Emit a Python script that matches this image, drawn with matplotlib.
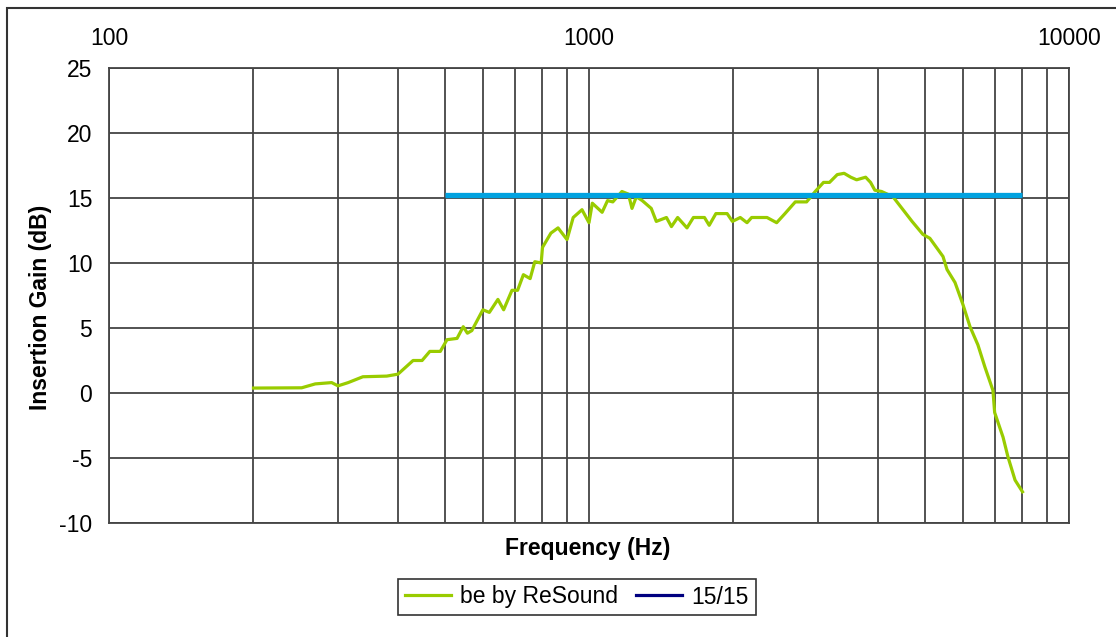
import numpy as np
import matplotlib
matplotlib.use('Agg')
import matplotlib.pyplot as plt
from matplotlib.lines import Line2D
from matplotlib.patches import Rectangle
from matplotlib.ticker import FixedLocator, NullFormatter

plt.rcParams['font.family'] = ['Liberation Sans', 'DejaVu Sans']

# Insertion gain curve (Hz, dB)
freq_hz = [200, 252, 269, 291, 300, 315, 338, 379, 400, 430, 449, 466, 490, 506, 531,
           547, 558, 570, 601, 620, 646, 664, 691, 710, 730, 754, 771, 795, 800, 833,
           862, 900, 927, 967, 1000, 1016, 1065, 1093, 1121, 1171, 1208, 1229, 1255,
           1291, 1348, 1381, 1450, 1485, 1530, 1600, 1650, 1740, 1780, 1838, 1940,
           1990, 2066, 2134, 2182, 2349, 2460, 2560, 2690, 2840, 2960, 3080, 3170,
           3290, 3400, 3510, 3610, 3770, 3860, 3940, 4070, 4297, 4510, 4710, 4962,
           5130, 5464, 5570, 5788, 6013, 6220, 6460, 6680, 6943, 7000, 7288, 7460,
           7720, 8000]
gain_db = [0.38, 0.4, 0.7, 0.8, 0.55, 0.8, 1.25, 1.3, 1.45, 2.5, 2.5, 3.2, 3.2, 4.1, 4.2,
           5.1, 4.6, 4.8, 6.4, 6.2, 7.2, 6.4, 7.9, 7.9, 9.1, 8.8, 10.1, 10.0, 11.2, 12.3,
           12.7, 11.8, 13.5, 14.1, 13.1, 14.6, 13.9, 14.8, 14.7, 15.5, 15.3, 14.2, 15.1,
           14.8, 14.2, 13.2, 13.5, 12.8, 13.5, 12.7, 13.5, 13.5, 12.9, 13.8, 13.8,
           13.2, 13.5, 13.1, 13.5, 13.5, 13.1, 13.8, 14.7, 14.7, 15.5, 16.2, 16.2,
           16.8, 16.9, 16.6, 16.4, 16.6, 16.2, 15.6, 15.5, 15.1, 14.1, 13.2, 12.2,
           11.9, 10.5, 9.5, 8.5, 6.8, 5.1, 3.7, 2.0, 0.2, -1.5, -3.4, -4.9,
           -6.7, -7.6]

# 15/15 target line
target_freq = [500, 8000]
target_gain = [15.2, 15.2]

x_major = [100, 1000, 10000]
x_minor = [200, 300, 400, 500, 600, 700, 800, 900,
           2000, 3000, 4000, 5000, 6000, 7000, 8000, 9000]
y_ticks = [-10, -5, 0, 5, 10, 15, 20, 25]

green = '#99CC00'
blue = '#00A2E0'
grid_col = '#444444'
fs = 16.5

fig = plt.figure(figsize=(11.16, 6.37), dpi=100)
ax = fig.add_axes([109 / 1116, 1 - 523 / 637, 960 / 1116, 455 / 637])

ax.plot(freq_hz, gain_db, color=green, lw=2.3, zorder=3)
ax.plot(target_freq, target_gain, color=blue, lw=3.8, solid_capstyle='butt', zorder=4)

ax.set_xscale('log')
ax.set_xlim(100, 10000)
ax.set_ylim(-10, 25)
ax.xaxis.set_major_locator(FixedLocator(x_major))
ax.xaxis.set_minor_locator(FixedLocator(x_minor))
ax.xaxis.set_minor_formatter(NullFormatter())
ax.set_xticklabels([str(v) for v in x_major])
ax.set_yticks(y_ticks)
ax.set_yticklabels([str(v) for v in y_ticks])

ax.xaxis.tick_top()
ax.tick_params(axis='x', which='both', length=0, pad=13, labelsize=fs)
ax.tick_params(axis='y', length=0, pad=12, labelsize=fs)

ax.grid(True, which='both', axis='x', color=grid_col, lw=1.3)
ax.grid(True, which='major', axis='y', color=grid_col, lw=1.3)
for s in ax.spines.values():
    s.set_color(grid_col)
    s.set_linewidth(1.3)

fig.text(588 / 1116, 1 - 549 / 637, 'Frequency (Hz)', ha='center', va='center',
         fontsize=fs, fontweight='bold')
fig.text(41 / 1116, 1 - 307 / 637, 'Insertion Gain (dB)', ha='center', va='center',
         rotation=90, fontsize=fs, fontweight='bold')

# legend (the 15/15 entry is drawn navy in the original)
handles = [Line2D([], [], color=green, lw=2.3), Line2D([], [], color='#000080', lw=2.3)]
leg = fig.legend(handles, ['be by ReSound', '15/15'], loc='center',
                 bbox_to_anchor=(577 / 1116, 1 - 597 / 637), ncol=2, fontsize=fs,
                 frameon=True, fancybox=False, edgecolor='black', handlelength=2.0,
                 handletextpad=0.4, columnspacing=0.8, borderpad=0.3)
leg.get_frame().set_linewidth(1.2)

# outer chart border
fig.patches.append(Rectangle((7 / 1116, -0.1), 1.2, 1.1 - 8 / 637, transform=fig.transFigure,
                             fill=False, edgecolor='#333333', lw=1.5))

fig.savefig('out.png', dpi=100)
